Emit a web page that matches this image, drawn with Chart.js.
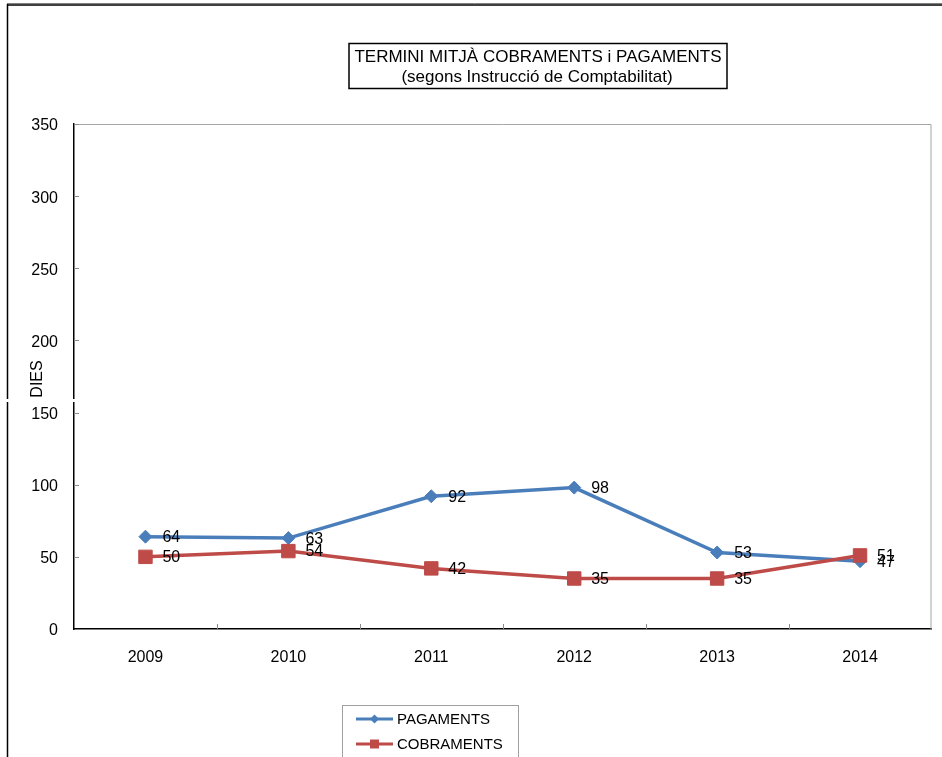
<!DOCTYPE html>
<html>
<head>
<meta charset="utf-8">
<script src="https://cdn.jsdelivr.net/npm/chart.js@4"></script>
<style>
  html, body { margin: 0; padding: 0; background: #fff; }
  #wrap { width: 942px; height: 757px; position: relative; }
</style>
</head>
<body>
<div id="wrap"><canvas id="chart" width="942" height="757"></canvas></div>
<script>
// dades
const years = ['2009', '2010', '2011', '2012', '2013', '2014'];
const pagaments = [64, 63, 92, 98, 53, 47];
const cobraments = [50, 54, 42, 35, 35, 51];
const yMin = 0, yMax = 350, yStep = 50;
const titleLines = ['TERMINI MITJÀ COBRAMENTS i PAGAMENTS', '(segons Instrucció de Comptabilitat)'];
const yTitle = 'DIES';

const BLUE = '#4A7EBB';
const RED = '#BE4B48';
const FONT = '"Liberation Sans", Arial, sans-serif';

// dibuix extra: marc, títol, etiquetes, llegenda
const extras = {
  id: 'extras',
  afterDatasetsDraw(chart) {
    const ctx = chart.ctx;
    ctx.save();
    ctx.font = '16px ' + FONT;
    ctx.fillStyle = '#000';
    ctx.textAlign = 'left';
    ctx.textBaseline = 'middle';
    chart.data.datasets.forEach((ds, i) => {
      const meta = chart.getDatasetMeta(i);
      meta.data.forEach((pt, j) => {
        ctx.fillText(String(ds.data[j]), pt.x + 17, pt.y + 1);
      });
    });
    ctx.restore();
  },
  afterDraw(chart) {
    const ctx = chart.ctx;
    const a = chart.chartArea;
    const x = chart.scales.x, y = chart.scales.y;
    ctx.save();

    // marc exterior
    ctx.strokeStyle = '#808080';
    ctx.lineWidth = 1;
    ctx.beginPath(); ctx.moveTo(7, 3.5); ctx.lineTo(942, 3.5); ctx.stroke();
    ctx.strokeStyle = '#000';
    ctx.lineWidth = 1.5;
    ctx.beginPath(); ctx.moveTo(7, 5); ctx.lineTo(942, 5); ctx.stroke();
    ctx.beginPath(); ctx.moveTo(7.5, 4); ctx.lineTo(7.5, 757); ctx.stroke();

    // vores grises de l'àrea
    ctx.strokeStyle = '#A6A6A6';
    ctx.lineWidth = 1;
    ctx.beginPath();
    ctx.moveTo(a.left, a.top + 0.5);
    ctx.lineTo(a.right - 0.5, a.top + 0.5);
    ctx.lineTo(a.right - 0.5, a.bottom);
    ctx.stroke();

    // marques interiors
    ctx.strokeStyle = '#8C8C8C';
    for (let v = yMin + yStep; v <= yMax; v += yStep) {
      const py = Math.round(y.getPixelForValue(v)) + 0.5;
      ctx.beginPath(); ctx.moveTo(a.left, py); ctx.lineTo(a.left + 5, py); ctx.stroke();
    }
    const step = (a.right - a.left) / years.length;
    for (let i = 1; i < years.length; i++) {
      const px = Math.round(a.left + i * step) + 0.5;
      ctx.beginPath(); ctx.moveTo(px, a.bottom); ctx.lineTo(px, a.bottom - 5); ctx.stroke();
    }

    // títol amb caixa
    ctx.fillStyle = '#fff';
    ctx.fillRect(349, 43, 378, 45);
    ctx.strokeStyle = '#000';
    ctx.lineWidth = 1.5;
    ctx.strokeRect(349, 43.5, 378, 45);
    ctx.fillStyle = '#000';
    ctx.font = '17px ' + FONT;
    ctx.textAlign = 'center';
    ctx.textBaseline = 'middle';
    ctx.fillText(titleLines[0], 538, 57);
    ctx.fillText(titleLines[1], 537, 77.5);

    // títol eix Y
    ctx.save();
    ctx.font = '16px ' + FONT;
    ctx.translate(38, 379);
    ctx.rotate(-Math.PI / 2);
    ctx.fillText(yTitle, 0, 0);
    ctx.restore();

    // petit tall al marc esquerre
    ctx.fillStyle = '#fff';
    ctx.fillRect(0, 399, 80, 3);

    // llegenda
    ctx.fillStyle = '#fff';
    ctx.fillRect(342, 705, 176, 60);
    ctx.strokeStyle = '#A0A0A0';
    ctx.lineWidth = 1;
    ctx.strokeRect(342.5, 705.5, 176, 60);
    const rows = [
      { label: chart.data.datasets[0].label, color: BLUE, shape: 'diamond', y: 719 },
      { label: chart.data.datasets[1].label, color: RED, shape: 'square', y: 744 }
    ];
    rows.forEach(r => {
      ctx.strokeStyle = r.color;
      ctx.lineWidth = 3;
      ctx.beginPath(); ctx.moveTo(356, r.y); ctx.lineTo(393, r.y); ctx.stroke();
      ctx.fillStyle = r.color;
      ctx.beginPath();
      if (r.shape === 'diamond') {
        ctx.moveTo(374.5, r.y - 4.5); ctx.lineTo(379, r.y); ctx.lineTo(374.5, r.y + 4.5); ctx.lineTo(370, r.y);
        ctx.closePath();
      } else {
        ctx.rect(370, r.y - 4.5, 9, 9);
      }
      ctx.fill();
      ctx.fillStyle = '#000';
      ctx.font = '15px ' + FONT;
      ctx.textAlign = 'left';
      ctx.textBaseline = 'middle';
      ctx.fillText(r.label, 397, r.y + 0.5);
    });

    ctx.restore();
  }
};

new Chart(document.getElementById('chart').getContext('2d'), {
  type: 'line',
  data: {
    labels: years,
    datasets: [
      {
        label: 'PAGAMENTS',
        data: pagaments,
        borderColor: BLUE,
        backgroundColor: BLUE,
        borderWidth: 3.5,
        pointStyle: 'rectRot',
        pointRadius: 6.5,
        pointBorderWidth: 1,
        pointBorderColor: BLUE,
        pointBackgroundColor: BLUE,
        tension: 0,
        order: 2
      },
      {
        label: 'COBRAMENTS',
        data: cobraments,
        borderColor: RED,
        backgroundColor: RED,
        borderWidth: 3.5,
        pointStyle: 'rect',
        pointRadius: 9.5,
        pointBorderWidth: 1,
        pointBorderColor: RED,
        pointBackgroundColor: RED,
        tension: 0,
        order: 1
      }
    ]
  },
  options: {
    responsive: false,
    animation: false,
    layout: { padding: { top: 124, left: 0, right: 9, bottom: 0 } },
    plugins: {
      legend: { display: false },
      title: { display: false },
      tooltip: { enabled: false }
    },
    scales: {
      x: {
        offset: true,
        grid: { display: true, drawOnChartArea: false, drawTicks: false, offset: true },
        border: { color: '#000', width: 1.5 },
        ticks: { color: '#000', font: { family: FONT, size: 16 }, padding: 19, maxRotation: 0 },
        afterFit(s) { s.height = 128; }
      },
      y: {
        min: yMin,
        max: yMax,
        grid: { display: true, drawOnChartArea: false, drawTicks: false },
        border: { color: '#000', width: 1.5 },
        ticks: { stepSize: yStep, color: '#000', font: { family: FONT, size: 16 }, padding: 16, labelOffset: 2 },
        afterFit(s) { s.width = 74; }
      }
    }
  },
  plugins: [extras]
});
</script>
</body>
</html>
